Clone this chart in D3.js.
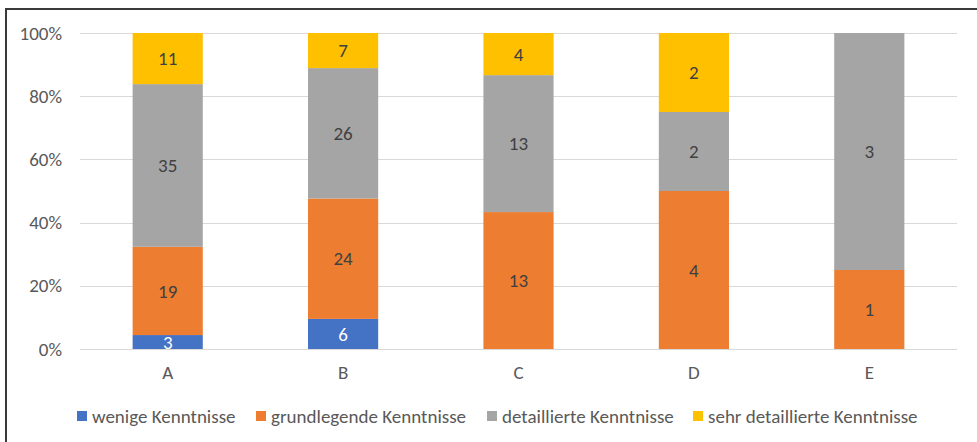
<!DOCTYPE html>
<html>
<head>
<meta charset="utf-8">
<script src="https://cdn.jsdelivr.net/npm/d3@7"></script>
<style>
  body { margin: 0; background: #fff; }
  svg text { font-family: Carlito, Calibri, "Noto Sans", sans-serif; }
</style>
</head>
<body>
<div id="chart"></div>
<script>
var categories = ["A", "B", "C", "D", "E"];
var seriesNames = ["wenige Kenntnisse", "grundlegende Kenntnisse", "detaillierte Kenntnisse", "sehr detaillierte Kenntnisse"];
var wenige = [3, 6, 0, 0, 0];
var grundlegende = [19, 24, 13, 4, 1];
var detaillierte = [35, 26, 13, 2, 3];
var sehrDetailliert = [11, 7, 4, 2, 0];
var yTicks = [0, 0.2, 0.4, 0.6, 0.8, 1];
var colors = ["#4472c4", "#ed7d31", "#a5a5a5", "#ffc000"];
var legendX = [77, 256, 487, 693];

var width = 977, height = 442;
var margin = {top: 33, right: 20, bottom: 93, left: 80};
var plotW = width - margin.left - margin.right,
    plotH = height - margin.top - margin.bottom;
var fontSize = "19px";

var rows = categories.map(function(c, i) {
    return {cat: c, s0: wenige[i], s1: grundlegende[i], s2: detaillierte[i], s3: sehrDetailliert[i]};
});
var keys = ["s0", "s1", "s2", "s3"];
var stacked = d3.stack().keys(keys).offset(d3.stackOffsetExpand)(rows);

var x = d3.scaleBand().domain(categories).range([0, plotW]).paddingInner(0.6).paddingOuter(0.3);
var y = d3.scaleLinear().domain([0, 1]).range([plotH, 0]);

var svg = d3.select("#chart").append("svg")
    .attr("width", width)
    .attr("height", height);

// frame
svg.append("rect")
    .attr("x", 6).attr("y", 9)
    .attr("width", width + 10).attr("height", height + 10)
    .attr("fill", "none").attr("stroke", "#3a3a3a").attr("stroke-width", 2);

var g = svg.append("g")
    .attr("transform", "translate(" + margin.left + "," + margin.top + ")");

// gridlines
g.selectAll(".grid")
    .data(yTicks)
    .enter().append("line")
    .attr("x1", 0).attr("x2", plotW)
    .attr("y1", function(d) { return Math.round(y(d)) + 0.5; })
    .attr("y2", function(d) { return Math.round(y(d)) + 0.5; })
    .attr("stroke", "#d9d9d9").attr("stroke-width", 1);

// y axis labels
var yAxis = g.append("g")
    .call(d3.axisLeft(y).tickValues(yTicks).tickSize(0).tickPadding(18).tickFormat(d3.format(".0%")));
yAxis.select(".domain").remove();
yAxis.selectAll("text").attr("fill", "#595959").style("font-size", fontSize);

// x axis labels
var xAxis = g.append("g")
    .attr("transform", "translate(0," + plotH + ")")
    .call(d3.axisBottom(x).tickSize(0).tickPadding(16.5));
xAxis.select(".domain").remove();
xAxis.selectAll("text").attr("fill", "#595959").style("font-size", fontSize);

// bars
var layers = g.selectAll(".layer")
    .data(stacked)
    .enter().append("g")
    .attr("fill", function(d, i) { return colors[i]; });

layers.selectAll("rect")
    .data(function(d) { return d; })
    .enter().append("rect")
    .attr("x", function(d) { return x(d.data.cat); })
    .attr("y", function(d) { return y(d[1]); })
    .attr("width", x.bandwidth())
    .attr("height", function(d) { return y(d[0]) - y(d[1]); });

// data labels
stacked.forEach(function(layer, li) {
    g.selectAll(".lbl" + li)
        .data(layer.filter(function(d) { return d.data[layer.key] > 0; }))
        .enter().append("text")
        .attr("x", function(d) { return x(d.data.cat) + x.bandwidth() / 2; })
        .attr("y", function(d) { return (y(d[0]) + y(d[1])) / 2; })
        .attr("dy", "0.35em")
        .attr("text-anchor", "middle")
        .attr("fill", li === 0 ? "#ffffff" : "#404040")
        .style("font-size", fontSize)
        .text(function(d) { return d.data[layer.key]; });
});

// legend
var legend = svg.selectAll(".legend")
    .data(seriesNames)
    .enter().append("g")
    .attr("transform", function(d, i) { return "translate(" + legendX[i] + ",411)"; });
legend.append("rect")
    .attr("width", 10).attr("height", 10)
    .attr("fill", function(d, i) { return colors[i]; });
legend.append("text")
    .attr("x", 15).attr("y", 5).attr("dy", "0.35em")
    .attr("fill", "#595959")
    .style("font-size", fontSize)
    .text(function(d) { return d; });
</script>
</body>
</html>
